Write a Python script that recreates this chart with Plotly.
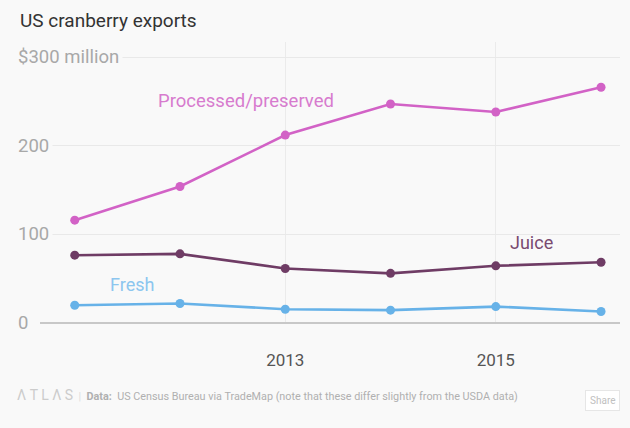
import plotly.graph_objects as go

years = [2011, 2012, 2013, 2014, 2015, 2016]
processed = [116, 154, 212, 247, 238, 266]
juice = [76.5, 78, 61.5, 56, 64.5, 68.5]
fresh = [20, 22, 15.5, 14.5, 18.5, 13]

y_gridvals = [100, 200, 300]
y_labels = ["100", "200", "$300 million"]
x_ticks = [2013, 2015]

BG = "#f9f9f9"
FONT = "Roboto, Lato, sans-serif"

fig = go.Figure()
series = [
    ("Processed/preserved", processed, "#d262c6"),
    ("Juice", juice, "#6f3c65"),
    ("Fresh", fresh, "#67b2e8"),
]
for name, vals, col in series:
    fig.add_trace(go.Scatter(
        x=years, y=vals, mode="lines+markers", name=name,
        line=dict(color=col, width=2.6),
        marker=dict(color=col, size=9),
        cliponaxis=False, showlegend=False, hoverinfo="skip"))

annotations = []
# y labels (cover gridlines with background)
for v, t in zip([0] + y_gridvals, ["0"] + y_labels):
    annotations.append(dict(
        x=-0.045, xref="paper", y=v, yref="y", text=t, showarrow=False,
        xanchor="left", yanchor="middle",
        font=dict(family=FONT, size=18.5, color="#a8a8a8"),
        bgcolor=BG, borderpad=3))

# series labels
annotations += [
    dict(x=2012.63, y=251, text="Processed/preserved", showarrow=False,
         font=dict(family=FONT, size=18.5, color="#d77bce")),
    dict(x=2015.34, y=90.5, text="Juice", showarrow=False,
         font=dict(family=FONT, size=18, color="#7a4a70")),
    dict(x=2011.54, y=43, text="Fresh", showarrow=False,
         font=dict(family=FONT, size=18, color="#8cc6ef")),
]

# title
annotations.append(dict(
    x=-0.038, xref="paper", y=1.0 + (42 - 20) / 281.0, yref="paper",
    text="US cranberry exports", showarrow=False,
    xanchor="left", yanchor="middle",
    font=dict(family=FONT, size=19, color="#333333")))

# footer
annotations.append(dict(
    x=-0.043, xref="paper", y=-(395 - 323) / 281.0, yref="paper",
    xanchor="left", yanchor="middle", showarrow=False,
    text="<span style='font-size:14px;color:#cccccc'>Λ T L Λ S</span>"
         "<span style='color:#dddddd'>  |  </span>"
         "<span style='color:#b0b0b0'><b>Data:</b>  US Census Bureau via TradeMap "
         "(note that these differ slightly from the USDA data)</span>",
    font=dict(family=FONT, size=10.8, color="#b0b0b0")))
annotations.append(dict(
    x=1.0, xref="paper", y=-(400 - 323) / 281.0, yref="paper",
    xanchor="right", yanchor="middle", showarrow=False, text="Share",
    font=dict(family=FONT, size=10, color="#c0c0c0"),
    bgcolor="#ffffff", bordercolor="#e6e6e6", borderwidth=1, borderpad=4))

fig.update_layout(
    width=630, height=428,
    margin=dict(l=40, r=10, t=42, b=105),
    paper_bgcolor=BG, plot_bgcolor=BG,
    annotations=annotations,
    xaxis=dict(range=[2010.67, 2016.18], tickvals=x_ticks,
               ticktext=[str(t) for t in x_ticks],
               showgrid=True, gridcolor="#ebebeb", gridwidth=1,
               zeroline=False, showline=False,
               ticks="outside", ticklen=22, tickcolor="rgba(0,0,0,0)",
               tickfont=dict(family=FONT, size=17, color="#555555")),
    yaxis=dict(range=[0, 317], tickvals=y_gridvals, showticklabels=False,
               showgrid=True, gridcolor="#e9e9e9", gridwidth=1,
               zeroline=True, zerolinecolor="#c8c8c8", zerolinewidth=2,
               showline=False),
)

fig.write_html("out.html")
